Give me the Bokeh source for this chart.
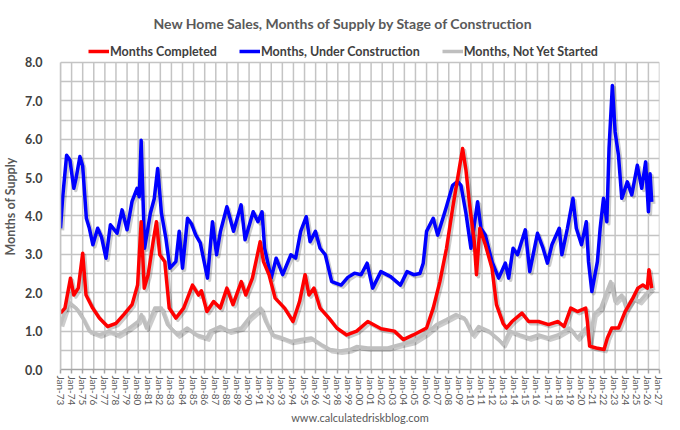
from bokeh.plotting import figure
from bokeh.models import Range1d, FixedTicker, Legend, LegendItem, Title
from bokeh.embed import file_html
from bokeh.resources import INLINE

FONT = "Lato"
GRID = "#c4c4c4"
TXT = "#595959"

tick_years = list(range(1973, 2028))
tick_labels = ["Jan-%02d" % (y % 100) for y in tick_years]
y_ticks = [0, 1, 2, 3, 4, 5, 6, 7, 8]
y_minor = [0.5, 1.5, 2.5, 3.5, 4.5, 5.5, 6.5, 7.5]
y_labels = ["0.0", "1.0", "2.0", "3.0", "4.0", "5.0", "6.0", "7.0", "8.0"]

# Months, Under Construction
dates_under = [1973.0, 1973.2, 1973.55, 1973.85, 1974.2, 1974.4, 1974.75, 1975.0, 1975.33, 1975.6,
               1975.92, 1976.35, 1976.7, 1977.1, 1977.5, 1978.1, 1978.55, 1979.0, 1979.45, 1979.9,
               1980.1, 1980.27, 1980.58, 1981.1, 1981.45, 1981.76, 1982.1, 1982.5, 1982.86, 1983.4,
               1983.7, 1984.0, 1984.45, 1984.8, 1985.2, 1985.6, 1986.25, 1986.7, 1987.07, 1987.42,
               1988.0, 1988.6, 1989.28, 1989.64, 1990.37, 1990.8, 1991.17, 1991.4, 1992.0, 1992.44,
               1993.03, 1993.77, 1994.2, 1994.65, 1995.15, 1995.5, 1995.98, 1996.4, 1996.87, 1997.45,
               1998.3, 1998.9, 1999.5, 2000.1, 2000.64, 2001.14, 2001.88, 2002.76, 2003.65, 2004.24,
               2004.83, 2005.4, 2005.7, 2006.0, 2006.6, 2007.0, 2007.75, 2008.35, 2008.8, 2009.1,
               2009.55, 2010.0, 2010.3, 2010.6, 2010.9, 2011.3, 2011.9, 2012.5, 2013.1, 2013.4,
               2013.8, 2014.2, 2014.9, 2015.3, 2016.0, 2016.5, 2016.9, 2017.3, 2017.96, 2018.2,
               2018.7, 2019.2, 2019.5, 2019.97, 2020.4, 2020.6, 2020.9, 2021.4, 2021.65, 2021.95,
               2022.25, 2022.45, 2022.75, 2023.0, 2023.3, 2023.6, 2024.1, 2024.5, 2025.0, 2025.4,
               2025.75, 2026.0, 2026.15, 2026.3]
under = [3.68, 4.5, 5.58, 5.45, 4.72, 4.98, 5.55, 5.3, 3.94, 3.68,
         3.25, 3.68, 3.45, 2.9, 3.77, 3.55, 4.16, 3.64, 4.38, 4.72,
         4.5, 5.97, 3.16, 4.07, 4.45, 5.24, 4.07, 3.42, 2.64, 2.81,
         3.6, 2.64, 3.94, 3.8, 3.5, 3.3, 2.38, 3.85, 2.99, 3.6,
         4.24, 3.6, 4.29, 3.38, 4.11, 3.85, 4.11, 3.16, 2.38, 2.9,
         2.47, 2.99, 2.9, 3.6, 3.98, 3.33, 3.6, 3.16, 2.99, 2.29,
         2.2, 2.4, 2.51, 2.47, 2.77, 2.12, 2.55, 2.42, 2.2, 2.55,
         2.47, 2.5, 2.77, 3.6, 3.94, 3.5, 4.2, 4.8, 4.9, 4.8,
         4.07, 3.16, 3.77, 4.37, 3.68, 3.5, 2.81, 2.38, 2.77, 2.38,
         3.16, 2.99, 3.64, 2.55, 3.55, 3.16, 2.77, 3.25, 3.68, 2.99,
         3.68, 4.46, 3.68, 3.25, 3.85, 2.81, 2.03, 2.81, 3.68, 4.46,
         3.85, 5.76, 7.4, 6.19, 5.58, 4.46, 4.89, 4.55, 5.32, 4.72,
         5.41, 4.11, 5.1, 4.37]

# Months Completed
dates_completed = [1973.0, 1973.4, 1973.9, 1974.2, 1974.6, 1975.0, 1975.3, 1975.9, 1976.5, 1977.25,
                   1978.0, 1978.7, 1979.45, 1979.95, 1980.27, 1980.55, 1980.9, 1981.35, 1981.65, 1981.95,
                   1982.4, 1982.8, 1983.4, 1984.1, 1984.9, 1985.45, 1985.7, 1986.2, 1986.8, 1987.4,
                   1988.0, 1988.55, 1989.3, 1989.7, 1990.3, 1990.75, 1991.0, 1991.3, 1991.8, 1992.35,
                   1993.2, 1993.96, 1994.55, 1995.05, 1995.4, 1995.85, 1996.4, 1997.2, 1997.9, 1998.8,
                   1999.7, 2000.7, 2001.9, 2003.1, 2003.9, 2004.8, 2006.0, 2006.6, 2007.2, 2007.8,
                   2008.35, 2008.95, 2009.25, 2009.55, 2009.85, 2010.3, 2010.5, 2010.8, 2011.3, 2011.9,
                   2012.3, 2012.9, 2013.2, 2013.7, 2014.6, 2015.2, 2016.1, 2017.0, 2017.85, 2018.4,
                   2019.0, 2019.6, 2020.35, 2020.5, 2020.7, 2021.3, 2022.0, 2022.3, 2022.7, 2023.3,
                   2023.9, 2024.6, 2025.05, 2025.5, 2025.9, 2026.05, 2026.3]
completed = [1.47, 1.6, 2.38, 1.94, 2.12, 3.03, 1.94, 1.6, 1.34, 1.12,
             1.2, 1.43, 1.69, 2.2, 3.85, 2.12, 2.47, 3.33, 3.85, 2.99,
             2.81, 1.6, 1.34, 1.6, 2.2, 1.94, 2.05, 1.51, 1.77, 1.6,
             2.12, 1.69, 2.29, 1.94, 2.38, 2.99, 3.33, 2.81, 2.47, 1.86,
             1.6, 1.25, 1.77, 2.47, 1.94, 2.12, 1.6, 1.34, 1.08, 0.9,
             1.0, 1.25, 1.06, 1.0, 0.78, 0.9, 1.08, 1.6, 2.29, 3.16,
             4.2, 5.24, 5.76, 5.2, 4.37, 3.33, 2.47, 3.68, 3.25, 2.64,
             1.69, 1.2, 1.08, 1.25, 1.47, 1.25, 1.25, 1.17, 1.25, 1.12,
             1.6, 1.51, 1.6, 1.25, 0.61, 0.56, 0.52, 0.82, 1.08, 1.08,
             1.51, 1.86, 2.12, 2.2, 2.12, 2.6, 2.12]

# Months, Not Yet Started
dates_not_started = [1973.0, 1973.7, 1974.4, 1975.0, 1975.6, 1976.5, 1977.35, 1978.2, 1979.2, 1980.0,
                     1980.3, 1980.75, 1981.5, 1982.1, 1982.65, 1983.55, 1984.4, 1985.3, 1986.2, 1986.5,
                     1987.4, 1988.2, 1989.3, 1990.0, 1991.05, 1991.5, 1992.1, 1993.0, 1993.8, 1994.7,
                     1995.6, 1996.5, 1997.3, 1998.2, 1999.1, 1999.7, 2000.7, 2002.5, 2003.65, 2004.8,
                     2006.0, 2006.9, 2007.8, 2008.65, 2009.4, 2010.15, 2010.7, 2011.6, 2012.5, 2012.9,
                     2013.5, 2014.4, 2015.25, 2016.1, 2017.0, 2017.85, 2018.9, 2019.6, 2020.35, 2020.7,
                     2021.1, 2021.7, 2022.25, 2022.6, 2023.0, 2023.6, 2024.0, 2024.6, 2025.2, 2025.7,
                     2026.3]
not_started = [1.17, 1.77, 1.6, 1.34, 1.0, 0.9, 1.0, 0.9, 1.08, 1.25,
               1.43, 1.08, 1.6, 1.6, 1.17, 0.9, 1.08, 0.9, 0.82, 1.0,
               1.12, 1.0, 1.08, 1.34, 1.6, 1.25, 0.9, 0.82, 0.73, 0.78,
               0.82, 0.65, 0.52, 0.48, 0.52, 0.6, 0.56, 0.56, 0.65, 0.73,
               0.95, 1.17, 1.3, 1.43, 1.34, 0.9, 1.12, 1.0, 0.78, 0.65,
               1.0, 0.9, 0.82, 0.9, 0.82, 0.9, 1.08, 0.82, 1.08, 0.73,
               1.43, 1.6, 2.03, 2.29, 1.77, 1.94, 1.6, 1.86, 1.77, 1.94,
               2.12]

Y_MAX = 8
Y_TOP = 8.494
p = figure(width=664, height=427, x_range=Range1d(1973, 2027), y_range=Range1d(0, Y_TOP),
           output_backend="svg", toolbar_location=None,
           min_border_left=49, min_border_right=5, min_border_bottom=54, min_border_top=40)
p.background_fill_color = "white"
p.border_fill_color = "white"
p.outline_line_color = None

# vertical gridlines, one per year tick, stopping at the top of the value axis
p.segment(x0=tick_years, y0=[0] * len(tick_years), x1=tick_years, y1=[Y_MAX] * len(tick_years),
          line_color=GRID, line_width=1.5)

# shadow ranges (offset a couple of pixels right/down)
p.extra_x_ranges = {"shx": Range1d(1973 - 0.18, 2027 - 0.18)}
p.extra_y_ranges = {"shy": Range1d(0.055, Y_TOP + 0.055)}

series = [
    (dates_under, under, "#0000ff", "Months, Under Construction"),
    (dates_not_started, not_started, "#bfbfbf", "Months, Not Yet Started"),
    (dates_completed, completed, "#ff0000", "Months Completed"),
]
for xs, ys, c, lab in series:
    p.line(xs, ys, x_range_name="shx", y_range_name="shy", line_color="black",
           line_alpha=0.2, line_width=3.5, line_join="round")
rend = {}
for xs, ys, c, lab in series:
    rend[lab] = p.line(xs, ys, line_color=c, line_width=3.5, line_join="round")

# axes
p.xaxis.ticker = FixedTicker(ticks=tick_years)
p.xaxis.major_label_overrides = {y: l for y, l in zip(tick_years, tick_labels)}
p.xaxis.major_label_orientation = "vertical"
p.xaxis.major_label_text_font = FONT
p.xaxis.major_label_text_font_size = "10px"
p.xaxis.major_label_text_color = TXT
p.xaxis.major_label_standoff = 2
p.xaxis.axis_line_color = "#a6a6a6"
p.xaxis.axis_line_width = 1.5
p.xaxis.major_tick_line_color = "#a6a6a6"
p.xaxis.major_tick_line_width = 1.5
p.xaxis.major_tick_out = 4
p.xaxis.major_tick_in = 0
p.xaxis.minor_tick_line_color = None
p.xaxis.axis_label = "www.calculatedriskblog.com"
p.xaxis.axis_label_text_font = FONT
p.xaxis.axis_label_text_font_size = "11px"
p.xaxis.axis_label_text_font_style = "normal"
p.xaxis.axis_label_text_color = TXT
p.xaxis.axis_label_standoff = 3

p.yaxis.ticker = FixedTicker(ticks=y_ticks, minor_ticks=y_minor)
p.yaxis.bounds = (0, Y_MAX)
p.yaxis.major_label_overrides = {t: l for t, l in zip(y_ticks, y_labels)}
p.yaxis.major_label_text_font = FONT
p.yaxis.major_label_text_font_size = "12.5px"
p.yaxis.major_label_text_font_style = "bold"
p.yaxis.major_label_text_color = "#404040"
p.yaxis.major_label_standoff = 12
p.yaxis.axis_line_color = GRID
p.yaxis.axis_line_width = 1.5
p.yaxis.major_tick_line_color = None
p.yaxis.minor_tick_line_color = None
p.yaxis.axis_label = "Months of Supply"
p.yaxis.axis_label_text_font = FONT
p.yaxis.axis_label_text_font_size = "12.5px"
p.yaxis.axis_label_text_font_style = "bold"
p.yaxis.axis_label_text_color = TXT
p.yaxis.axis_label_standoff = 4

p.xgrid.grid_line_color = None
p.ygrid.grid_line_color = GRID
p.ygrid.grid_line_width = 1.5
p.ygrid.minor_grid_line_color = GRID
p.ygrid.minor_grid_line_width = 1.5

legend = Legend(items=[LegendItem(label="Months Completed", renderers=[rend["Months Completed"]]),
                       LegendItem(label="Months, Under Construction", renderers=[rend["Months, Under Construction"]]),
                       LegendItem(label="Months, Not Yet Started", renderers=[rend["Months, Not Yet Started"]])],
                orientation="horizontal", location=(28, 310),
                border_line_color=None, background_fill_alpha=0,
                label_text_font=FONT, label_text_font_size="12.5px", label_text_font_style="bold",
                label_text_color="#404040", glyph_width=21, glyph_height=14, label_height=16,
                label_standoff=1, spacing=22, padding=0, margin=0)
p.add_layout(legend, "center")

p.title = Title(text="New Home Sales, Months of Supply by Stage of Construction", align="left", offset=93,
                text_font=FONT, text_font_size="14px", text_font_style="bold", text_color=TXT,
                standoff=24)

open("out.html", "w").write(file_html(p, INLINE))
